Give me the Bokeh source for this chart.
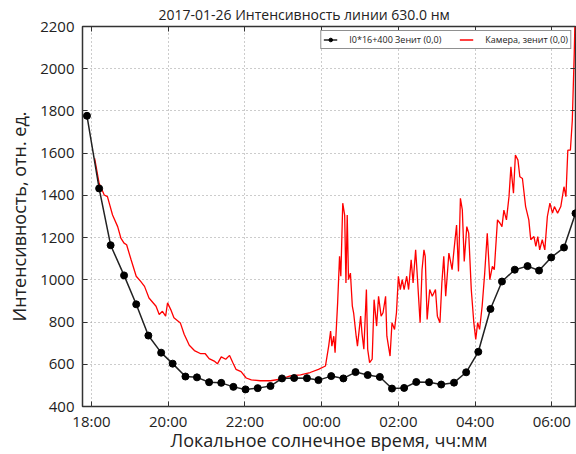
from bokeh.plotting import figure
from bokeh.models import (FixedTicker, Range1d, Legend, LegendItem, LinearAxis,
                          ColumnDataSource)
from bokeh.embed import file_html
from bokeh.resources import INLINE

TITLE = "2017-01-26 Интенсивность линии 630.0 нм"
X_LABEL = "Локальное солнечное время, чч:мм"
Y_LABEL = "Интенсивность, отн. ед."
MODEL_LABEL = "I0*16+400 Зенит (0,0)"
CAMERA_LABEL = "Камера, зенит (0,0)"

X_TICK_LABELS = ["18:00", "20:00", "22:00", "00:00", "02:00", "04:00", "06:00"]
Y_TICKS = [400, 600, 800, 1000, 1200, 1400, 1600, 1800, 2000, 2200]
X_START, X_END = "17:46", "06:37"

# Model intensity: I0*16+400 at zenith
MODEL_TIME = ["17:53", "18:12", "18:30", "18:51", "19:10", "19:29", "19:49", "20:07",
              "20:27", "20:45", "21:04", "21:23", "21:42", "22:01", "22:20", "22:40",
              "22:58", "23:17", "23:37", "23:55", "00:15", "00:34", "00:53", "01:12",
              "01:31", "01:50", "02:09", "02:28", "02:48", "03:07", "03:27", "03:46",
              "04:05", "04:24", "04:42", "05:02", "05:22", "05:40", "05:59", "06:19",
              "06:37"]
MODEL_VALUE = [1777, 1433, 1164, 1021, 884, 736, 655, 603,
               542, 538, 515, 512, 493, 481, 487, 497,
               533, 535, 534, 525, 544, 533, 563, 549,
               540, 485, 488, 516, 515, 504, 513, 562,
               659, 862, 992, 1048, 1065, 1044, 1106, 1153,
               1315]

# Camera measurement at zenith
CAMERA_TIME = ["18:05", "18:12", "18:20", "18:25", "18:33", "18:41", "18:46", "18:51",
               "18:55", "19:02", "19:10", "19:17", "19:23", "19:30", "19:41", "19:46",
               "19:51", "19:56", "19:59", "20:04", "20:09", "20:19", "20:25", "20:33",
               "20:41", "20:51", "20:58", "21:04", "21:12", "21:17", "21:23", "21:30",
               "21:36", "21:41", "21:46", "21:54", "22:02", "22:10", "22:24", "22:40",
               "22:55", "23:11", "23:27", "23:42", "23:55", "00:06", "00:11", "00:14",
               "00:16", "00:19", "00:21", "00:25", "00:28", "00:30", "00:33", "00:36",
               "00:38", "00:40", "00:42", "00:45", "00:48", "00:50", "00:54", "00:56",
               "01:01", "01:03", "01:06", "01:10", "01:12", "01:15", "01:19", "01:22",
               "01:26", "01:29", "01:33", "01:36", "01:40", "01:42", "01:47", "01:50",
               "01:54", "01:57", "02:00", "02:03", "02:06", "02:09", "02:13", "02:16",
               "02:20", "02:23", "02:27", "02:29", "02:34", "02:37", "02:40", "02:42",
               "02:45", "02:49", "02:53", "02:58", "03:01", "03:05", "03:08", "03:11",
               "03:14", "03:19", "03:24", "03:27", "03:31", "03:34", "03:37", "03:40",
               "03:43", "03:47", "03:50", "03:54", "03:58", "04:01", "04:04", "04:07",
               "04:11", "04:15", "04:19", "04:23", "04:27", "04:30", "04:35", "04:39",
               "04:42", "04:45", "04:49", "04:53", "04:56", "05:00", "05:03", "05:07",
               "05:10", "05:14", "05:19", "05:24", "05:27", "05:32", "05:35", "05:38",
               "05:41", "05:45", "05:49", "05:53", "05:57", "06:01", "06:04", "06:09",
               "06:14", "06:19", "06:22", "06:25", "06:29", "06:32", "06:35", "06:36"]
CAMERA_VALUE = [1575, 1457, 1402, 1394, 1307, 1252, 1198, 1174,
                1166, 1095, 1017, 993, 969, 914, 875, 836,
                851, 828, 891, 859, 820, 796, 742, 690,
                665, 650, 650, 627, 615, 602, 635, 624,
                642, 608, 576, 565, 535, 526, 522, 522,
                529, 545, 550, 561, 576, 592, 686, 757,
                686, 733, 655, 891, 1111, 1017, 1363, 1307,
                985, 1307, 1001, 1032, 875, 844, 733, 686,
                828, 749, 671, 954, 671, 608, 624, 906,
                781, 922, 828, 844, 922, 733, 639, 797,
                765, 844, 1017, 954, 1001, 954, 1017, 954,
                1095, 985, 1142, 1048, 797, 1048, 1142, 1111,
                812, 954, 922, 954, 828, 797, 985, 1111,
                922, 1127, 1048, 1142, 1260, 1040, 1386, 1331,
                1087, 1252, 1221, 954, 797, 718, 797, 765,
                875, 1032, 1221, 1001, 1064, 1048, 1284, 1268,
                1252, 1330, 1284, 1394, 1535, 1410, 1591, 1567,
                1488, 1480, 1347, 1284, 1190, 1205, 1158, 1205,
                1142, 1190, 1142, 1300, 1363, 1316, 1347, 1316,
                1347, 1441, 1394, 1614, 1614, 1755, 2070, 2200]


def night_hours(hhmm):
    """Clock time -> hours on a continuous evening-to-morning scale."""
    h, m = (int(v) for v in hhmm.split(":"))
    hours = h + m / 60.0
    return hours + 24 if h < 12 else hours


FONT = "Open Sans"
x_ticks = [night_hours(t) for t in X_TICK_LABELS]

p = figure(width=576, height=454, output_backend="svg", toolbar_location=None,
           x_range=Range1d(night_hours(X_START), night_hours(X_END)),
           y_range=Range1d(Y_TICKS[0], Y_TICKS[-1]),
           min_border_left=82, min_border_right=1,
           min_border_top=26, min_border_bottom=47)
p.background_fill_color = "white"
p.border_fill_color = "white"
p.outline_line_color = "#333333"
p.outline_line_width = 1.5

p.title.text = TITLE
p.title.align = "left"
p.title.offset = 76
p.title.text_font = FONT
p.title.text_font_size = "14px"
p.title.text_font_style = "normal"
p.title.text_color = "#222222"
p.title.standoff = 5

xt = FixedTicker(ticks=x_ticks)
yt = FixedTicker(ticks=Y_TICKS)

xa = p.xaxis[0]
xa.ticker = xt
xa.major_label_overrides = {x: lbl for x, lbl in zip(x_ticks, X_TICK_LABELS)}
xa.axis_label = X_LABEL
ya = p.yaxis[0]
ya.ticker = yt
ya.axis_label = Y_LABEL

for ax in (xa, ya):
    ax.axis_line_color = None
    ax.major_tick_in = 5
    ax.major_tick_out = 0
    ax.major_tick_line_color = "#333333"
    ax.minor_tick_line_color = None
    ax.major_label_text_font = FONT
    ax.major_label_text_font_size = "15px"
    ax.major_label_text_color = "#222222"
    ax.axis_label_text_font = FONT
    ax.axis_label_text_font_size = "18px"
    ax.axis_label_text_font_style = "normal"
    ax.axis_label_text_color = "#222222"
xa.major_label_standoff = 4
xa.axis_label_standoff = -6
ya.major_label_standoff = 8
ya.axis_label_standoff = 6

# inward ticks along the top and right edges of the frame (no labels drawn)
for side, tk in (("above", xt), ("right", yt)):
    edge = LinearAxis(ticker=tk, axis_line_color=None, major_tick_in=5, major_tick_out=0,
                      minor_tick_line_color=None, major_label_text_font_size="1px",
                      major_label_text_color=None, major_label_standoff=0,
                      major_tick_line_color="#333333")
    p.add_layout(edge, side)

p.xgrid.ticker = xt
p.ygrid.ticker = yt
for g in (p.xgrid, p.ygrid):
    g.grid_line_color = "#999999"
    g.grid_line_dash = "1 3"
    g.grid_line_width = 1

cam = ColumnDataSource(dict(x=[night_hours(t) for t in CAMERA_TIME], y=CAMERA_VALUE))
mod = ColumnDataSource(dict(x=[night_hours(t) for t in MODEL_TIME], y=MODEL_VALUE))

cam_line = p.line("x", "y", source=cam, line_color="#ff0000", line_width=1.3)
mod_line = p.line("x", "y", source=mod, line_color="#222222", line_width=1.5)
mod_pts = p.scatter("x", "y", source=mod, size=7, fill_color="black", line_color="black")

legend = Legend(items=[LegendItem(label=MODEL_LABEL, renderers=[mod_line, mod_pts]),
                       LegendItem(label=CAMERA_LABEL, renderers=[cam_line])],
                orientation="horizontal", location="top_right", margin=4,
                padding=2, spacing=18, label_standoff=12,
                glyph_width=14, glyph_height=9, label_height=9,
                label_text_font=FONT, label_text_font_size="9px",
                label_text_color="#222222",
                border_line_color="#222222", border_line_width=1,
                background_fill_color="white", background_fill_alpha=1)
p.add_layout(legend)

open("out.html", "w").write(file_html(p, INLINE))
